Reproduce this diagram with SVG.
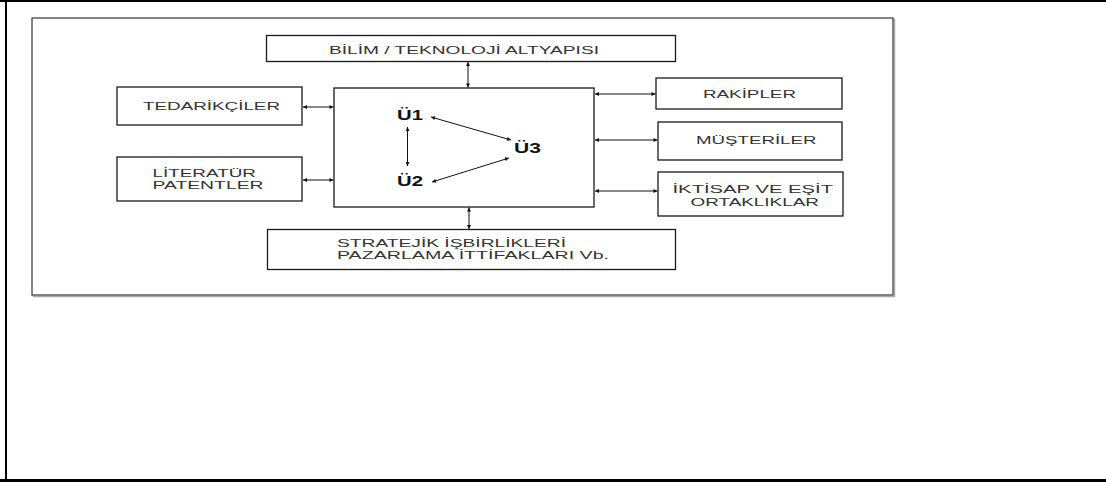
<svg xmlns="http://www.w3.org/2000/svg" width="1106" height="482" viewBox="0 0 1106 482">
<defs>
<marker id="ah" viewBox="0 0 10 10" refX="10" refY="5" markerWidth="4.5" markerHeight="4" markerUnits="userSpaceOnUse" orient="auto-start-reverse">
<path d="M0,0 L10,5 L0,10 Z" fill="#111"/>
</marker>
</defs>
<style>
.box{fill:#fff;stroke:#1a1a1a;stroke-width:1.3}
.t{font-family:"Liberation Sans",Arial,sans-serif;font-size:11px;fill:#333}
.u{font-family:"Liberation Sans",Arial,sans-serif;font-size:14px;font-weight:bold;fill:#111}
.c{stroke:#111;stroke-width:1;fill:none;marker-start:url(#ah);marker-end:url(#ah)}
</style>
<rect x="0" y="0" width="1106" height="482" fill="#fff"/>
<g id="page-border" stroke="#000" fill="none">
<line x1="6" y1="0" x2="6" y2="482" stroke-width="2"/>
<line x1="0" y1="1" x2="1106" y2="1" stroke-width="2"/>
<line x1="0" y1="480.5" x2="1106" y2="480.5" stroke-width="3"/>
</g>
<g id="frame">
<rect x="33.5" y="19.5" width="861" height="277" fill="none" stroke="#aaa" stroke-width="1.5"/>
<rect x="32" y="18" width="861" height="277" fill="#fff" stroke="#444" stroke-width="1.3"/>
</g>
<g id="bilim">
<rect class="box" x="266.5" y="35.5" width="409" height="26"/>
<text class="t" x="329" y="54" textLength="270" lengthAdjust="spacingAndGlyphs">BİLİM / TEKNOLOJİ  ALTYAPISI</text>
</g>
<g id="center">
<rect class="box" x="334" y="88" width="260" height="119"/>
<text class="u" x="397" y="120" textLength="26" lengthAdjust="spacingAndGlyphs">Ü1</text>
<text class="u" x="397" y="186" textLength="26" lengthAdjust="spacingAndGlyphs">Ü2</text>
<text class="u" x="514" y="153" textLength="27" lengthAdjust="spacingAndGlyphs">Ü3</text>
</g>
<g id="tedarikciler">
<rect class="box" x="117" y="87" width="185" height="38"/>
<text class="t" x="143" y="110" textLength="137" lengthAdjust="spacingAndGlyphs">TEDARİKÇİLER</text>
</g>
<g id="literatur">
<rect class="box" x="117" y="157" width="185" height="44"/>
<text class="t" x="152.5" y="177" textLength="103.5" lengthAdjust="spacingAndGlyphs">LİTERATÜR</text>
<text class="t" x="152.5" y="189" textLength="111" lengthAdjust="spacingAndGlyphs">PATENTLER</text>
</g>
<g id="stratejik">
<rect class="box" x="267.5" y="229.5" width="408" height="40"/>
<text class="t" x="337" y="247" textLength="229" lengthAdjust="spacingAndGlyphs">STRATEJİK  İŞBİRLİKLERİ</text>
<text class="t" x="337" y="259" textLength="272" lengthAdjust="spacingAndGlyphs">PAZARLAMA  İTTİFAKLARI  Vb.</text>
</g>
<g id="rakipler">
<rect class="box" x="656" y="78" width="186" height="31"/>
<text class="t" x="703" y="98" textLength="93" lengthAdjust="spacingAndGlyphs">RAKİPLER</text>
</g>
<g id="musteriler">
<rect class="box" x="658" y="122" width="184" height="38"/>
<text class="t" x="696" y="144" textLength="120.5" lengthAdjust="spacingAndGlyphs">MÜŞTERİLER</text>
</g>
<g id="iktisap">
<rect class="box" x="658" y="172" width="185" height="44"/>
<text class="t" x="672.5" y="193" textLength="160.5" lengthAdjust="spacingAndGlyphs">İKTİSAP  VE  EŞİT</text>
<text class="t" x="690.5" y="206" textLength="128.5" lengthAdjust="spacingAndGlyphs">ORTAKLIKLAR</text>
</g>
<g id="connectors">
<line class="c" x1="468" y1="62" x2="468" y2="87.5"/>
<line class="c" x1="469" y1="207.5" x2="469" y2="229"/>
<line class="c" x1="303" y1="107" x2="333.5" y2="107"/>
<line class="c" x1="303" y1="180" x2="333.5" y2="180"/>
<line class="c" x1="595" y1="94" x2="655.5" y2="94"/>
<line class="c" x1="595" y1="140" x2="657.5" y2="140"/>
<line class="c" x1="595" y1="191" x2="657.5" y2="191"/>
<line class="c" x1="407.5" y1="127" x2="407.5" y2="166"/>
<line class="c" x1="431" y1="117" x2="511" y2="140"/>
<line class="c" x1="432" y1="182" x2="509" y2="158"/>
</g>
</svg>
